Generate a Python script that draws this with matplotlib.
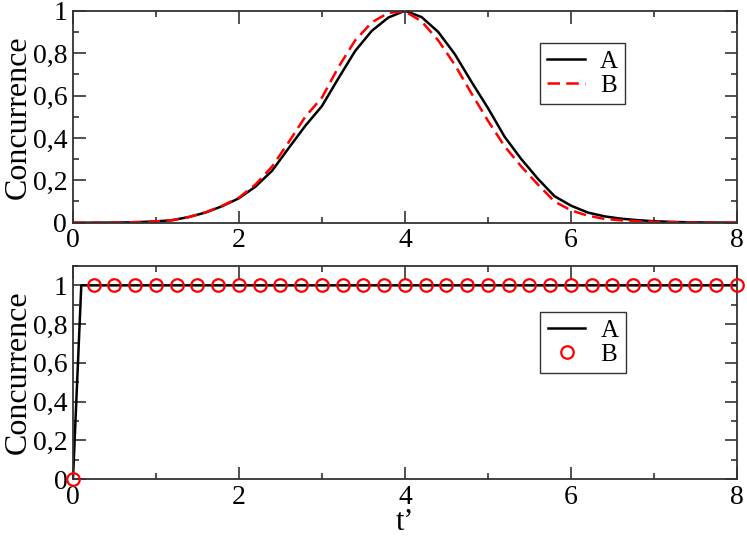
import numpy as np
import matplotlib
matplotlib.use("Agg")
import matplotlib.pyplot as plt
from matplotlib.ticker import MultipleLocator, FuncFormatter

plt.rcParams['font.family'] = ['Liberation Serif', 'DejaVu Serif']

# top panel, values every 0.2 in t'
t_top = [0.0, 0.2, 0.4, 0.6, 0.8, 1.0, 1.2, 1.4, 1.6, 1.8,
         2.0, 2.2, 2.4, 2.6, 2.8, 3.0, 3.2, 3.4, 3.6, 3.8,
         4.0, 4.2, 4.4, 4.6, 4.8, 5.0, 5.2, 5.4, 5.6, 5.8,
         6.0, 6.2, 6.4, 6.6, 6.8, 7.0, 7.2, 7.4, 7.6, 7.8, 8.0]
conc_A = [0.0, 0.0, 0.0003, 0.001, 0.003, 0.006, 0.012, 0.027, 0.048, 0.078,
          0.115, 0.17, 0.245, 0.352, 0.457, 0.55, 0.682, 0.81, 0.905, 0.968,
          1.0, 0.97, 0.90, 0.795, 0.665, 0.54, 0.405, 0.30, 0.207, 0.125,
          0.08, 0.048, 0.03, 0.019, 0.012, 0.007, 0.004, 0.002, 0.001, 0.0005, 0.0]
conc_B = [0.0, 0.0, 0.0003, 0.001, 0.003, 0.006, 0.012, 0.027, 0.049, 0.08,
          0.118, 0.18, 0.265, 0.38, 0.50, 0.59, 0.735, 0.86, 0.945, 0.99,
          0.997, 0.95, 0.86, 0.745, 0.61, 0.48, 0.36, 0.265, 0.18, 0.10,
          0.058, 0.033, 0.018, 0.011, 0.007, 0.004, 0.002, 0.001, 0.0005, 0.0, 0.0]

# bottom panel
t_botA = [0.0, 0.1, 8.0]
botA = [0.0, 1.0, 1.0]
t_botB = [0.0, 0.25, 0.5, 0.75, 1.0, 1.25, 1.5, 1.75, 2.0, 2.25, 2.5, 2.75,
          3.0, 3.25, 3.5, 3.75, 4.0, 4.25, 4.5, 4.75, 5.0, 5.25, 5.5, 5.75,
          6.0, 6.25, 6.5, 6.75, 7.0, 7.25, 7.5, 7.75, 8.0]
botB = [0.0] + [1.0] * 32


def comma(v, pos):
    s = "%g" % round(v, 3)
    return s.replace(".", ",")


def style(ax, ymax):
    ax.set_xlim(0, 8)
    ax.set_ylim(0, ymax)
    ax.xaxis.set_major_locator(MultipleLocator(2))
    ax.xaxis.set_minor_locator(MultipleLocator(1))
    ax.yaxis.set_major_locator(MultipleLocator(0.2))
    ax.yaxis.set_minor_locator(MultipleLocator(0.1))
    ax.yaxis.set_major_formatter(FuncFormatter(comma))
    ax.tick_params(which='both', direction='in', top=True, right=True,
                   labelsize=20, width=1.2, color='#333333')
    ax.tick_params(which='major', length=9, pad=4)
    ax.tick_params(which='minor', length=4.5)
    for sp in ax.spines.values():
        sp.set_linewidth(1.3)
        sp.set_color('#333333')
    ax.set_ylabel("Concurrence", fontsize=23, labelpad=0)


def add_legend(ax, anchor):
    ax.legend(loc='upper left', bbox_to_anchor=anchor, fontsize=18,
              frameon=True, fancybox=False, framealpha=1, edgecolor='#333333',
              handlelength=1.5, handletextpad=0.6, borderpad=0.3,
              labelspacing=0.05, borderaxespad=0)


fig = plt.figure(figsize=(7.47, 5.37), dpi=100)
ax1 = fig.add_axes([0.0973, 0.5853, 0.8897, 0.3947])
ax2 = fig.add_axes([0.0977, 0.108, 0.8889, 0.3967])

ax1.plot(t_top, conc_A, color='black', lw=1.8, label='A')
ax1.plot(t_top, conc_B, color='red', lw=1.8, dashes=(5, 2.5), label='B')
style(ax1, 1.0)
add_legend(ax1, (0.703, 0.848))

ax2.plot(t_botA, botA, color='black', lw=1.8, label='A')
ax2.plot(t_botB, botB, ls='none', marker='o', ms=9, mfc='none', mec='red',
         mew=1.6, label='B', clip_on=False, zorder=5)
style(ax2, 1.1)
ax2.set_xlabel("t\u2019", fontsize=22)
ax2.xaxis.set_label_coords(0.5, -0.135)
add_legend(ax2, (0.704, 0.785))

fig.savefig("out.png", dpi=100)
